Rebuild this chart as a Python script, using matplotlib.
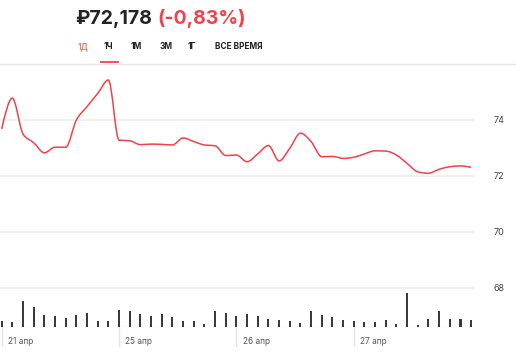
import numpy as np
import matplotlib
matplotlib.use('Agg')
import matplotlib.pyplot as plt
from matplotlib.path import Path
from matplotlib.patches import PathPatch
from matplotlib.transforms import blended_transform_factory

plt.rcParams['font.family'] = ['Inter', 'DejaVu Sans']

# hourly prices, 45 points over 4 days
price = [73.69, 74.79, 73.51, 73.20, 72.84, 73.04, 73.04, 74.01, 74.49, 74.96, 75.44,
         73.29, 73.27, 73.13, 73.15, 73.14, 73.12, 73.37, 73.24, 73.12, 73.09, 72.74,
         72.76, 72.52, 72.80, 73.10, 72.55, 73.00, 73.54, 73.24, 72.70, 72.71, 72.64,
         72.68, 72.80, 72.91, 72.90, 72.76, 72.46, 72.16, 72.11, 72.25, 72.34, 72.37,
         72.32]
volume = [5.7, 4.7, 26.3, 19.7, 11.7, 10.7, 8.7, 11.7, 14.0, 5.7, 5.7,
          16.7, 16.3, 13.3, 10.7, 13.3, 10.0, 5.7, 5.7, 3.0, 16.3, 14.0,
          10.7, 13.0, 10.7, 8.0, 7.0, 5.7, 3.7, 16.3, 11.7, 9.7, 6.7,
          5.7, 4.7, 5.3, 6.7, 3.0, 34.0, 2.0, 8.3, 15.7, 8.0, 8.0, 7.0]
day_start = [0, 11, 22, 33]
day_labels = ['21 апр', '25 апр', '26 апр', '27 апр']
price_ticks = [68, 70, 72, 74]
tabs = ['1Д', '1Ч', '1М', '3М', '1Г', 'ВСЕ ВРЕМЯ']
tab_x = [78, 104, 131, 160, 188, 215]

RED = '#f2414b'
W, H = 516, 355


def monotone_path(x, y):
    # d3-style monotoneX curve as cubic bezier segments
    x = np.asarray(x, float)
    y = np.asarray(y, float)
    n = len(x)
    h = np.diff(x)
    s = np.diff(y) / h
    t = np.zeros(n)
    for i in range(1, n - 1):
        p = (s[i - 1] * h[i] + s[i] * h[i - 1]) / (h[i - 1] + h[i])
        t[i] = (np.sign(s[i - 1]) + np.sign(s[i])) * min(abs(s[i - 1]), abs(s[i]), 0.5 * abs(p))
    t[0] = (3 * s[0] - t[1]) / 2
    t[-1] = (3 * s[-1] - t[-2]) / 2
    verts = [(x[0], y[0])]
    codes = [Path.MOVETO]
    for i in range(n - 1):
        dx = h[i] / 3
        verts += [(x[i] + dx, y[i] + dx * t[i]), (x[i + 1] - dx, y[i + 1] - dx * t[i + 1]),
                  (x[i + 1], y[i + 1])]
        codes += [Path.CURVE4] * 3
    return Path(verts, codes)


fig = plt.figure(figsize=(W / 100, H / 100), dpi=100)
fig.patch.set_facecolor('white')

ax_left, ax_right, ax_top, ax_bot = 0, 475, 70, 327
ax = fig.add_axes([ax_left / W, 1 - ax_bot / H, (ax_right - ax_left) / W, (ax_bot - ax_top) / H])
ax.set_xlim(-0.16, 44.36)
px_per_unit = 28.0
ax.set_ylim(74 - (ax_bot - 120.3) / px_per_unit, 74 + (120.3 - ax_top) / px_per_unit)
for s in ax.spines.values():
    s.set_visible(False)
ax.set_xticks([])
ax.set_yticks([])
ax.patch.set_alpha(0)

for v in price_ticks:
    ax.axhline(v, color='#f1f1f1', lw=1.4, zorder=0)
    ax.text(1.0 + 19 / (ax_right - ax_left), v, str(v), transform=blended_transform_factory(ax.transAxes, ax.transData),
            ha='left', va='center', fontsize=6.5, color='#444444')

xs = np.arange(len(price))
ax.add_patch(PathPatch(monotone_path(xs, price), fill=False, edgecolor=RED, lw=1.1, zorder=3))

# volume
ax2 = ax.twinx()
ax2.set_ylim(0, ax_bot - ax_top)
ax2.set_xlim(ax.get_xlim())
ax2.axis('off')
ax2.bar(np.arange(len(volume)), volume, width=0.19, color='#3a3a3a', zorder=2)
ax2.axhline(0, color='#ececec', lw=1.0, zorder=1)

tr = blended_transform_factory(ax.transData, ax.transAxes)
for d, lab in zip(day_start, day_labels):
    ax.plot([d, d], [0, -19 / (ax_bot - ax_top)], color='#e4e4e4', lw=1.0, transform=tr, clip_on=False)
    ax.text(d + 0.6, -14.5 / (ax_bot - ax_top), lab, transform=tr, ha='left', va='center',
            fontsize=6, color='#555555')

# header
fig.text(75 / W, 1 - 23.5 / H, '₽72,178', fontsize=14, fontweight='bold', color='#222222', va='baseline')
fig.text(157 / W, 1 - 23.5 / H, '(-0,83%)', fontsize=14, fontweight='bold', color=RED, va='baseline')
for lab, x in zip(tabs, tab_x):
    fig.text(x / W, 1 - 46.5 / H, lab, fontsize=6, fontweight='bold', va='center', ha='left',
             color='#f27a7a' if lab == '1Д' else '#222222')

fig.add_artist(plt.Line2D([0, 1], [1 - 64 / H, 1 - 64 / H], color='#e6e6e6', lw=1.0))
fig.add_artist(plt.Line2D([101 / W, 118 / W], [1 - 62 / H, 1 - 62 / H], color=RED, lw=1.3))

fig.savefig('out.png', dpi=100)
